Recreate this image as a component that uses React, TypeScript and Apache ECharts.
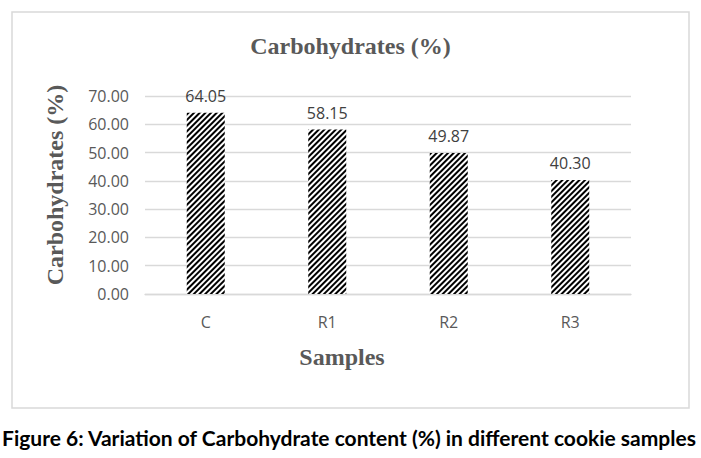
import React, { useEffect, useRef } from "react";
import * as echarts from "echarts";

const categories = ["C", "R1", "R2", "R3"];
const carbohydrates = [64.05, 58.15, 49.87, 40.3];
const yTicks = { min: 0, max: 70, interval: 10 };
const chartTitle = "Carbohydrates (%)";
const yAxisTitle = "Carbohydrates (%)";
const xAxisTitle = "Samples";
const caption = "Figure 6: Variation of Carbohydrate content (%) in different cookie samples";

export default function App() {
  const ref = useRef<HTMLDivElement>(null);
  useEffect(() => {
    if (!ref.current) return;
    const chart = echarts.init(ref.current, undefined, { renderer: "svg" });
    const serifBold = {
      fontFamily: "'Liberation Serif', 'Times New Roman', serif",
      fontWeight: "bold" as const,
      fontSize: 24,
      color: "#595959",
    };
    chart.setOption({
      animation: false,
      backgroundColor: "#ffffff",
      title: {
        text: chartTitle,
        left: "center",
        top: 29,
        textStyle: serifBold,
      },
      grid: { left: 145, right: 70, top: 96, bottom: 164 },
      xAxis: {
        type: "category",
        data: categories,
        axisLine: { lineStyle: { color: "#d9d9d9", width: 1.3 } },
        axisTick: { show: false },
        axisLabel: {
          margin: 20,
          fontSize: 16,
          color: "#595959",
          fontFamily: "'Open Sans', sans-serif",
        },
      },
      yAxis: {
        type: "value",
        min: yTicks.min,
        max: yTicks.max,
        interval: yTicks.interval,
        axisLine: { show: false },
        axisTick: { show: false },
        splitLine: { lineStyle: { color: "#d9d9d9", width: 1.3 } },
        axisLabel: {
          margin: 16,
          fontSize: 16,
          color: "#595959",
          fontFamily: "'Open Sans', sans-serif",
          formatter: (v: number) => v.toFixed(2),
        },
      },
      series: [
        {
          type: "bar",
          data: carbohydrates,
          barWidth: 38,
          itemStyle: {
            color: "#ffffff",
            decal: {
              symbol: "rect",
              symbolSize: 1,
              color: "#000000",
              dashArrayX: [1, 0],
              dashArrayY: [1.35, 1.3],
              rotation: -Math.PI / 4,
            },
          },
          label: {
            show: true,
            position: "top",
            distance: 9,
            fontSize: 16,
            color: "#404040",
            fontFamily: "'Open Sans', sans-serif",
            formatter: (p: any) => Number(p.value).toFixed(2),
          },
        },
      ],
      graphic: [
        {
          type: "rect",
          shape: { x: 12, y: 12, width: 677, height: 396 },
          style: { fill: "none", stroke: "#d9d9d9", lineWidth: 1.5 },
          silent: true,
          z: -1,
        },
        {
          type: "text",
          x: 55,
          y: 185,
          rotation: Math.PI / 2,
          style: {
            text: yAxisTitle,
            align: "center",
            verticalAlign: "middle",
            font: "bold 24px 'Liberation Serif', 'Times New Roman', serif",
            fill: "#595959",
          },
        },
        {
          type: "text",
          x: 342,
          y: 357,
          style: {
            text: xAxisTitle,
            align: "center",
            verticalAlign: "middle",
            font: "bold 24px 'Liberation Serif', 'Times New Roman', serif",
            fill: "#595959",
          },
        },
        {
          type: "text",
          x: 349,
          y: 437,
          style: {
            text: caption,
            align: "center",
            verticalAlign: "middle",
            font: "bold 21px Lato, 'Open Sans', sans-serif",
            fill: "#000000",
          },
        },
      ],
    });
    return () => chart.dispose();
  }, []);
  return (
    <div
      ref={ref}
      style={{ position: "absolute", left: 0, top: 0, width: 701, height: 458 }}
    />
  );
}
